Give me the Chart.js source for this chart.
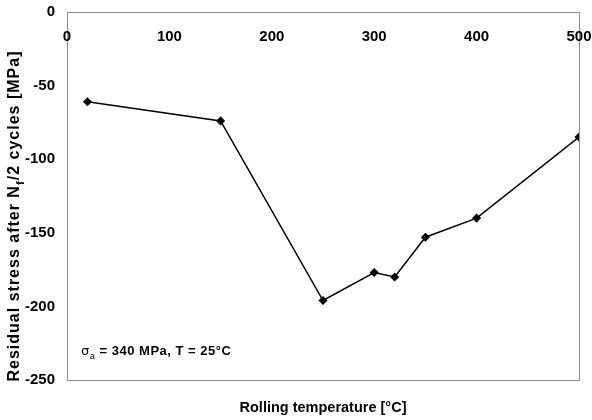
<!DOCTYPE html>
<html>
<head>
<meta charset="utf-8">
<script src="https://cdn.jsdelivr.net/npm/chart.js@4"></script>
<style>
  html, body { margin: 0; padding: 0; background: #fff; }
  #wrap { width: 592px; height: 420px; }
</style>
</head>
<body>
<div id="wrap"><canvas id="chart"></canvas></div>
<script>
// data
const temps = [20, 150, 250, 300, 320, 350, 400, 500];
const stress = [-61, -74, -196, -177, -180, -153, -140, -85];
const xTicks = [0, 100, 200, 300, 400, 500];
const yTicks = [0, -50, -100, -150, -200, -250];

const FONT = '"Liberation Sans", Arial, sans-serif';

// draws a run of text pieces, some of them subscripted; returns width
const drawRich = (ctx, parts, x, y, size, draw = true) => {
    let cx = x;
    parts.forEach(p => {
        ctx.font = (p.normal ? '' : 'bold ') + (p.sub ? size * 0.72 : size) + 'px ' + (p.family || FONT);
        if (draw) ctx.fillText(p.t, cx, y + (p.sub ? size * 0.3 : 0));
        cx += ctx.measureText(p.t).width;
    });
    return cx - x;
};

const extras = {
    id: 'extras',
    beforeDatasetsDraw(chart) {
        const { ctx, chartArea: a } = chart;
        ctx.save();
        ctx.strokeStyle = '#8c8c8c';
        ctx.lineWidth = 1;
        ctx.strokeRect(a.left + 0.5, a.top + 0.5, a.right - a.left, a.bottom - a.top);
        ctx.restore();
    },
    afterDraw(chart) {
        const { ctx, chartArea: a, scales } = chart;
        ctx.save();
        ctx.fillStyle = '#000';
        ctx.textBaseline = 'middle';
        ctx.textAlign = 'center';
        ctx.font = 'bold 15px ' + FONT;
        xTicks.forEach(v => {
            ctx.fillText(String(v), scales.x.getPixelForValue(v), a.top + 25);
        });

        // y title with subscript
        ctx.textAlign = 'left';
        ctx.textBaseline = 'alphabetic';
        ctx.letterSpacing = '1px';
        const yParts = [
            { t: 'Residual stress after N' },
            { t: 'f', sub: true },
            { t: '/2 cycles [MPa]' }
        ];
        ctx.translate(19, 216);
        ctx.rotate(-Math.PI / 2);
        const tw = drawRich(ctx, yParts, 0, 0, 16, false);
        drawRich(ctx, yParts, -tw / 2, 0, 16);
        ctx.restore();

        // note inside the plot
        ctx.save();
        ctx.fillStyle = '#000';
        ctx.textAlign = 'left';
        ctx.textBaseline = 'alphabetic';
        ctx.letterSpacing = '0.5px';
        drawRich(ctx, [
            { t: 'σ', normal: true, family: '"DejaVu Sans", sans-serif' },
            { t: 'a', sub: true, normal: true },
            { t: ' = 340 MPa, T = 25°C' }
        ], a.left + 14, 355, 13);
        ctx.restore();
    }
};

new Chart(document.getElementById('chart'), {
    type: 'line',
    data: {
        datasets: [{
            data: temps.map((t, i) => ({ x: t, y: stress[i] })),
            borderColor: '#000',
            backgroundColor: '#000',
            borderWidth: 1.5,
            pointStyle: 'rectRot',
            pointRadius: 3.5,
            pointHoverRadius: 3.5,
            tension: 0
        }]
    },
    options: {
        responsive: true,
        maintainAspectRatio: false,
        animation: false,
        layout: { padding: { left: 0, right: 13, top: 0, bottom: 0 } },
        plugins: {
            legend: { display: false },
            tooltip: { enabled: false }
        },
        scales: {
            x: {
                type: 'linear',
                position: 'top',
                min: 0,
                max: 500,
                grid: { display: false },
                border: { display: false },
                ticks: { display: false },
                afterFit: s => { s.height = 12; }
            },
            x2: {
                type: 'linear',
                position: 'bottom',
                min: 0,
                max: 500,
                grid: { display: false },
                border: { display: false },
                ticks: { display: false },
                title: {
                    display: true,
                    text: 'Rolling temperature [°C]',
                    color: '#000',
                    font: { family: FONT, size: 14.5, weight: 'bold' },
                    padding: { top: 0, bottom: 3 }
                },
                afterFit: s => { s.height = 40; }
            },
            y: {
                min: -250,
                max: 0,
                afterBuildTicks: s => { s.ticks = yTicks.map(v => ({ value: v })); },
                grid: { display: false, drawTicks: false },
                border: { display: false },
                ticks: {
                    color: '#000',
                    padding: 12,
                    font: { family: FONT, size: 15, weight: 'bold' }
                },
                afterFit: s => {
                    s.width = 67;
                    s.paddingTop = 0;
                    s.paddingBottom = 0;
                }
            }
        }
    },
    plugins: [extras]
});
</script>
</body>
</html>
